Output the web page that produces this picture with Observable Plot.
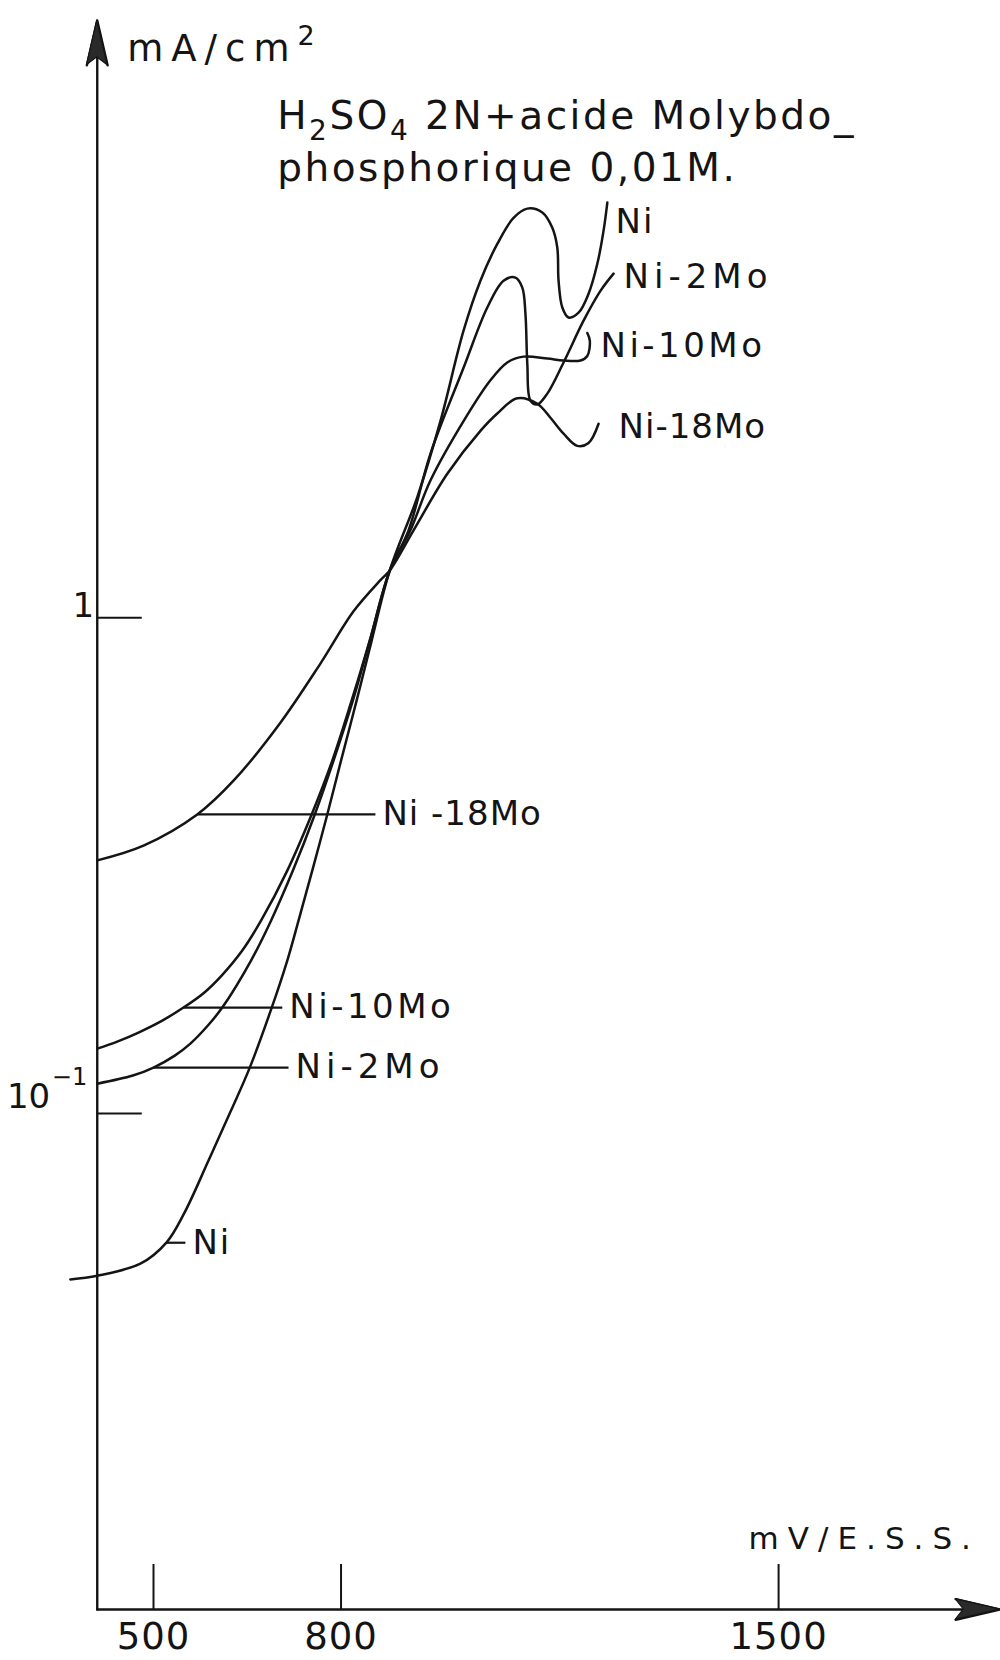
<!DOCTYPE html>
<html>
<head>
<meta charset="utf-8">
<script src="https://cdn.jsdelivr.net/npm/d3@7"></script>
<script src="https://cdn.jsdelivr.net/npm/@observablehq/plot@0.6"></script>
<style>
  html, body { margin: 0; padding: 0; background: #fff; overflow: hidden; }
</style>
</head>
<body>
<div id="chart"></div>
<script>
// ---- Data (potential in mV/E.S.S., current density in mA/cm²) ----
const seriesNames = ["Ni", "Ni-2Mo", "Ni-10Mo", "Ni-18Mo"];

const niPotential = [367, 410, 479, 521, 549, 588, 624, 654, 688, 714, 732, 754, 778, 800, 825, 849, 878, 922, 959, 996, 1023, 1050, 1076, 1098, 1122, 1138, 1146, 1148, 1154, 1164, 1180, 1196, 1210, 1220, 1226];
const niCurrent   = [0.0463, 0.0471, 0.0498, 0.0550, 0.0629, 0.0804, 0.1014, 0.1238, 0.1620, 0.2035, 0.2449, 0.309, 0.401, 0.515, 0.681, 0.899, 1.245, 1.75, 2.49, 3.79, 4.78, 5.67, 6.40, 6.68, 6.56, 6.11, 5.57, 4.78, 4.22, 4.03, 4.12, 4.50, 5.17, 6.03, 6.87];

const ni2MoPotential = [410, 467, 500, 534, 559, 587, 610, 656, 688, 723, 758, 788, 819, 846, 878, 908, 943, 996, 1034, 1060, 1079, 1090, 1095, 1098, 1103, 1114, 1130, 1156, 1188, 1215, 1236];
const ni2MoCurrent   = [0.1149, 0.1193, 0.1238, 0.1309, 0.1384, 0.1505, 0.1636, 0.2035, 0.2449, 0.309, 0.401, 0.515, 0.681, 0.899, 1.245, 1.50, 2.14, 3.19, 4.22, 4.78, 4.85, 4.63, 4.10, 3.25, 2.74, 2.69, 2.83, 3.27, 3.97, 4.56, 4.94];

const ni10MoPotential = [410, 442, 476, 514, 548, 581, 609, 642, 672, 714, 753, 786, 817, 846, 878, 911, 943, 996, 1039, 1066, 1092, 1130, 1156, 1183, 1194, 1198, 1194];
const ni10MoCurrent   = [0.1352, 0.1397, 0.1457, 0.1540, 0.1636, 0.1753, 0.1898, 0.2132, 0.2449, 0.309, 0.401, 0.515, 0.681, 0.899, 1.245, 1.50, 1.89, 2.49, 3.01, 3.27, 3.36, 3.33, 3.30, 3.30, 3.37, 3.62, 3.75];

const ni18MoPotential = [410, 484, 570, 628, 703, 767, 820, 863, 878, 916, 970, 1023, 1050, 1082, 1114, 1135, 1156, 1178, 1196, 1212];
const ni18MoCurrent   = [0.324, 0.347, 0.401, 0.469, 0.614, 0.808, 1.03, 1.19, 1.245, 1.50, 1.95, 2.38, 2.58, 2.77, 2.70, 2.53, 2.35, 2.22, 2.25, 2.46];

// Axis extents and ticks
const xAxisFrom = 410, xAxisTo = 1855;
const yAxisFrom = 0.01, yAxisTo = 16;
const xTicks = [500, 800, 1500];
const xTickLabels = ["500", "800", "1500"];
const yTicks = [1, 0.1];

// Curve labels at the upper ends of the curves
const upperLabelText      = ["Ni", "Ni-2Mo", "Ni-10Mo", "Ni-18Mo"];
const upperLabelPotential = [1239, 1252, 1215, 1244];
const upperLabelCurrent   = [5.97, 4.63, 3.35, 2.30];

// Curve labels with leader lines in the lower part
const lowerLabelText     = ["Ni -18Mo", "Ni-10Mo", "Ni-2Mo", "Ni"];
const lowerLeaderFrom    = [570, 548, 500, 521];
const lowerLeaderTo      = [855, 706, 716, 551];
const lowerLeaderCurrent = [0.401, 0.1636, 0.1238, 0.0549];

// Annotation texts
const titleLine1 = "H2SO4 2N+acide Molybdo_";
const titleLine2 = "phosphorique 0,01M.";
const titlePotential = 698, titleLine1Current = 9.69, titleLine2Current = 7.61;
const yUnitText = "mA/cm2";
const yUnitPotential = 458, yUnitCurrent = 13.28;
const xUnitText = "mV/E.S.S.";
const xUnitPotential = 1452, xUnitCurrent = 0.01327;

// ---- Build tables ----
const seriesPotentials = [niPotential, ni2MoPotential, ni10MoPotential, ni18MoPotential];
const seriesCurrents = [niCurrent, ni2MoCurrent, ni10MoCurrent, ni18MoCurrent];
const curves = seriesNames.flatMap((name, s) =>
  seriesPotentials[s].map((v, k) => ({series: name, potential: v, current: seriesCurrents[s][k]})));

const upperLabels = upperLabelText.map((t, k) => ({text: t, potential: upperLabelPotential[k], current: upperLabelCurrent[k]}));
const lowerLabels = lowerLabelText.map((t, k) => ({text: t, from: lowerLeaderFrom[k], to: lowerLeaderTo[k], current: lowerLeaderCurrent[k]}));
const axes = [
  {x1: xAxisFrom, y1: yAxisFrom, x2: xAxisTo, y2: yAxisFrom},
  {x1: xAxisFrom, y1: yAxisFrom, x2: xAxisFrom, y2: yAxisTo}
];

const ink = "#141414";
const axisWidth = 2.4;
const headLen = 46, headHalfAngle = 13;
const svgNS = "http://www.w3.org/2000/svg";

// filled arrow heads drawn through the plot's own scales
function arrowHeads(index, scales) {
  try {
    const sx = scales.x, sy = scales.y;
    const ox = sx(xAxisFrom), oy = sy(yAxisFrom);
    const ex = sx(xAxisTo), ty = sy(yAxisTo);
    const a = headHalfAngle * Math.PI / 180;
    const L = headLen * Math.cos(a), W = headLen * Math.sin(a);
    const g = document.createElementNS(svgNS, "g");
    const tri = [
      `${ex},${oy} ${ex - L},${oy - W} ${ex - L * 0.82},${oy} ${ex - L},${oy + W}`,
      `${ox},${ty} ${ox - W},${ty + L} ${ox},${ty + L * 0.82} ${ox + W},${ty + L}`
    ];
    for (const pts of tri) {
      const p = document.createElementNS(svgNS, "polygon");
      p.setAttribute("points", pts);
      p.setAttribute("fill", "#2a2a2a");
      p.setAttribute("stroke", ink);
      p.setAttribute("stroke-width", 1.2);
      p.setAttribute("stroke-linejoin", "round");
      g.appendChild(p);
    }
    return g;
  } catch (e) { return null; }
}

const chart = Plot.plot({
  width: 1000,
  height: 1660,
  marginLeft: 96.75,
  marginRight: 0,
  marginTop: 20,
  marginBottom: 51,
  x: {domain: [xAxisFrom, xAxisTo], axis: null},
  y: {type: "log", domain: [yAxisFrom, yAxisTo], axis: null},
  style: {fontFamily: "'DejaVu Sans', sans-serif", background: "#fff", color: ink},
  marks: [
    // axes with arrowheads
    Plot.arrow(axes, {x1: "x1", y1: "y1", x2: "x2", y2: "y2", stroke: ink, strokeWidth: axisWidth,
      headLength: headLen * 1.5 / axisWidth, headAngle: 2 * headHalfAngle}),
    arrowHeads,
    // x ticks (drawn inward, upward)
    Plot.ruleX(xTicks, {x1: d => d, x2: d => d, y1: () => yAxisFrom, y2: () => yAxisFrom, insetTop: -45, stroke: ink, strokeWidth: 2}),
    // y ticks (drawn inward, to the right)
    Plot.ruleY(yTicks, {y: d => d, x1: () => xAxisFrom, x2: () => xAxisFrom, insetRight: -45, stroke: ink, strokeWidth: 2}),
    // x tick labels
    Plot.text(xTicks, {x: d => d, y: () => yAxisFrom, text: (d, i) => xTickLabels[i], dy: 28, fontSize: 37, fill: ink}),
    // y tick labels
    Plot.text([1], {x: () => xAxisFrom, y: d => d, text: () => "1", textAnchor: "end", dx: -3, dy: -12, fontSize: 34, fill: ink}),
    Plot.text([0.1], {x: () => xAxisFrom, y: d => d, text: () => "10", textAnchor: "end", dx: -47, dy: -16, fontSize: 34, fill: ink}),
    Plot.text([0.1], {x: () => xAxisFrom, y: d => d, text: () => "−1", textAnchor: "end", dx: -10, dy: -36, fontSize: 24, fill: ink}),
    // unit labels
    Plot.text([yUnitText], {x: () => yUnitPotential, y: () => yUnitCurrent, text: d => d, textAnchor: "start", lineAnchor: "bottom", fontSize: 37, fill: ink}),
    Plot.text([xUnitText], {x: () => xUnitPotential, y: () => xUnitCurrent, text: d => d, textAnchor: "start", lineAnchor: "bottom", fontSize: 31, fill: ink}),
    // title (two lines)
    Plot.text([titleLine1], {x: () => titlePotential, y: () => titleLine1Current, text: d => d, textAnchor: "start", lineAnchor: "bottom", fontSize: 39, fill: ink}),
    Plot.text([titleLine2], {x: () => titlePotential, y: () => titleLine2Current, text: d => d, textAnchor: "start", lineAnchor: "bottom", fontSize: 39, fill: ink}),
    // curves
    Plot.line(curves, {x: "potential", y: "current", z: "series", curve: "catmull-rom", stroke: ink, strokeWidth: 2.5}),
    // lower labels with leaders
    Plot.link(lowerLabels, {x1: "from", x2: "to", y1: "current", y2: "current", stroke: ink, strokeWidth: 2.2}),
    Plot.text(lowerLabels, {x: "to", y: "current", text: "text", textAnchor: "start", dx: 7, fontSize: 34, fill: ink}),
    // upper labels
    Plot.text(upperLabels, {x: "potential", y: "current", text: "text", textAnchor: "start", lineAnchor: "bottom", fontSize: 34, fill: ink})
  ]
});

// rich text: sub/superscripts as tspans
function richText(el, parts, size) {
  el.textContent = "";
  let shift = 0;
  for (const [str, kind] of parts) {
    const ts = document.createElementNS(svgNS, "tspan");
    ts.textContent = str;
    const target = kind === "sub" ? 0.3 * size : kind === "sup" ? -0.42 * size : 0;
    if (target !== shift) { ts.setAttribute("dy", target - shift); shift = target; }
    if (kind) ts.setAttribute("font-size", Math.round(0.72 * size));
    el.appendChild(ts);
  }
}

// letter spacing to imitate the stencil lettering of the original
const labelSpacing = {"Ni": 2, "Ni-2Mo": 5, "Ni-10Mo": 3.5, "Ni-18Mo": 1, "Ni -18Mo": 1};
chart.querySelectorAll("text").forEach(t => {
  const s = t.textContent;
  if (s === titleLine1) {
    t.style.letterSpacing = "2.5px";
    richText(t, [["H"], ["2", "sub"], ["SO"], ["4", "sub"], [" 2N+acide Molybdo_"]], 39);
  } else if (s === titleLine2) {
    t.style.letterSpacing = "2.5px";
  } else if (s === yUnitText) {
    t.style.letterSpacing = "8px";
    richText(t, [["mA/cm"], ["2", "sup"]], 37);
  } else if (s === xUnitText) {
    t.style.letterSpacing = "9px";
  } else if (s in labelSpacing) {
    t.style.letterSpacing = labelSpacing[s] + "px";
  } else if (xTickLabels.includes(s)) {
    t.style.letterSpacing = "1px";
  }
});

document.getElementById("chart").appendChild(chart);
</script>
</body>
</html>
